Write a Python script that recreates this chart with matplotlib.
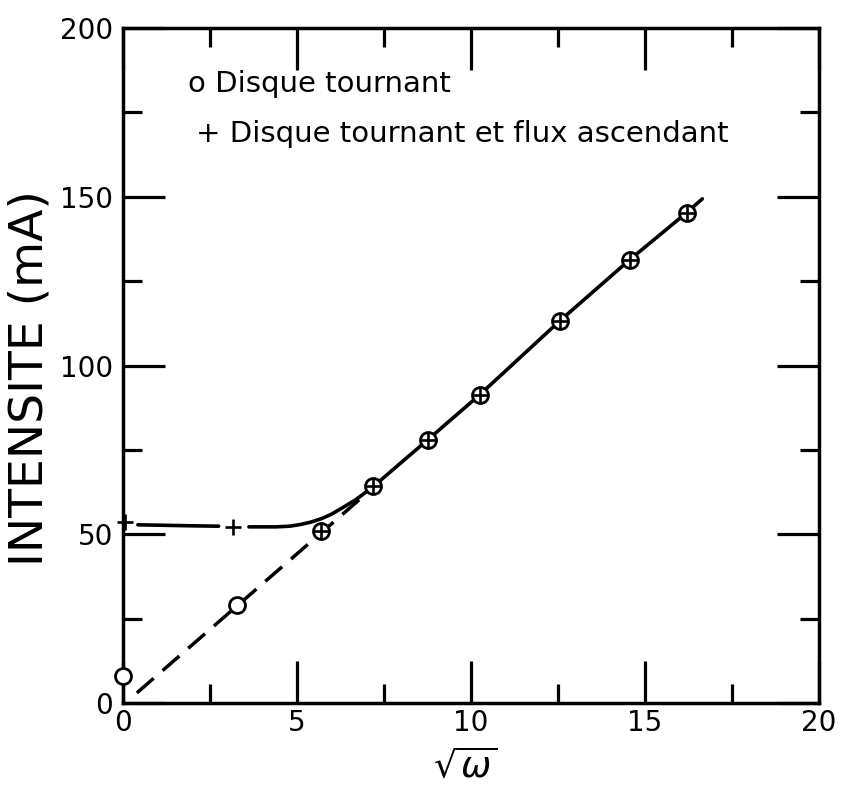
import matplotlib.pyplot as plt
import numpy as np
from matplotlib.ticker import MultipleLocator

plt.rcParams['font.family'] = ['DejaVu Sans']
plt.rcParams['mathtext.fontset'] = 'dejavusans'

# points mesurés : disque tournant seul (o) et avec flux ascendant (+)
disque_x = [0, 3.28, 5.69, 7.2, 8.76, 10.26, 12.55, 14.57, 16.2]
disque_y = [8, 29, 51, 64.2, 78, 91.4, 113.2, 131.4, 145.3]
flux_x = [0.05, 3.17, 5.69, 7.2, 8.76, 10.26, 12.55, 14.57, 16.2]
flux_y = [53.5, 52.2, 51, 64.2, 78, 91.4, 113.2, 131.4, 145.3]

# courbe tracée (avec flux), interrompue autour des croix
courbe_x = [0.43, 1, 2, 2.75, np.nan, 3.62, 4, 4.4, 4.8, 5.1, 5.4, 5.75, 6.0,
            6.3, 6.7, 7.2, 8.76, 10.26, 12.55, 14.57, 16.2, 16.65]
courbe_y = [52.8, 52.7, 52.5, 52.4, np.nan, 52.2, 52.2, 52.2, 52.4, 52.9, 53.6,
            54.8, 56.0, 57.8, 60.3, 64.2, 78, 91.4, 113.2, 131.4, 145.3, 149.4]

# droite extrapolée (disque seul)
droite_x = [0.4, 6.9]
droite_y = [3, 61.2]

fig = plt.figure(figsize=(8.42, 7.96), dpi=100)
ax = fig.add_axes([0.146, 0.1168, 0.8266, 0.848])

ax.plot(droite_x, droite_y, color='black', lw=2.5, linestyle=(0, (6.4, 3.4)))
ax.plot(courbe_x, courbe_y, color='black', lw=2.6, solid_capstyle='round')

# cercles ouverts
ax.plot(disque_x, disque_y, 'o', ms=11.5, mfc='white', mec='black', mew=2,
        clip_on=False, zorder=5)
# croix (les croix dans les cercles donnent le symbole ⊕)
ax.plot(flux_x, flux_y, '+', ms=12, mec='black', mew=1.9, clip_on=False, zorder=6)

ax.set_xlim(0, 20)
ax.set_ylim(0, 200)
ax.xaxis.set_major_locator(MultipleLocator(5))
ax.xaxis.set_minor_locator(MultipleLocator(2.5))
ax.yaxis.set_major_locator(MultipleLocator(50))
ax.yaxis.set_minor_locator(MultipleLocator(25))

ax.tick_params(which='both', direction='in', top=True, right=True, width=2.3,
               labelsize=20, color='black')
ax.tick_params(which='major', length=30)
ax.tick_params(which='minor', length=14)
ax.tick_params(axis='x', pad=4)
ax.tick_params(axis='y', pad=7)
for sp in ax.spines.values():
    sp.set_linewidth(2.5)

# légende écrite à la main dans le cadre
ax.text(1.87, 183.4, 'o Disque tournant', fontsize=21, va='center', ha='left')
ax.text(2.1, 168.5, '+ Disque tournant et flux ascendant', fontsize=21,
        va='center', ha='left')

fig.text(30 / 842, 1 - 378 / 796, 'INTENSITE (mA)', rotation=90, fontsize=34,
         ha='center', va='center')
fig.text(465 / 842, 1 - 766 / 796, r'$\sqrt{\omega}$', fontsize=26,
         ha='center', va='center')

fig.savefig('out.png', dpi=100)
